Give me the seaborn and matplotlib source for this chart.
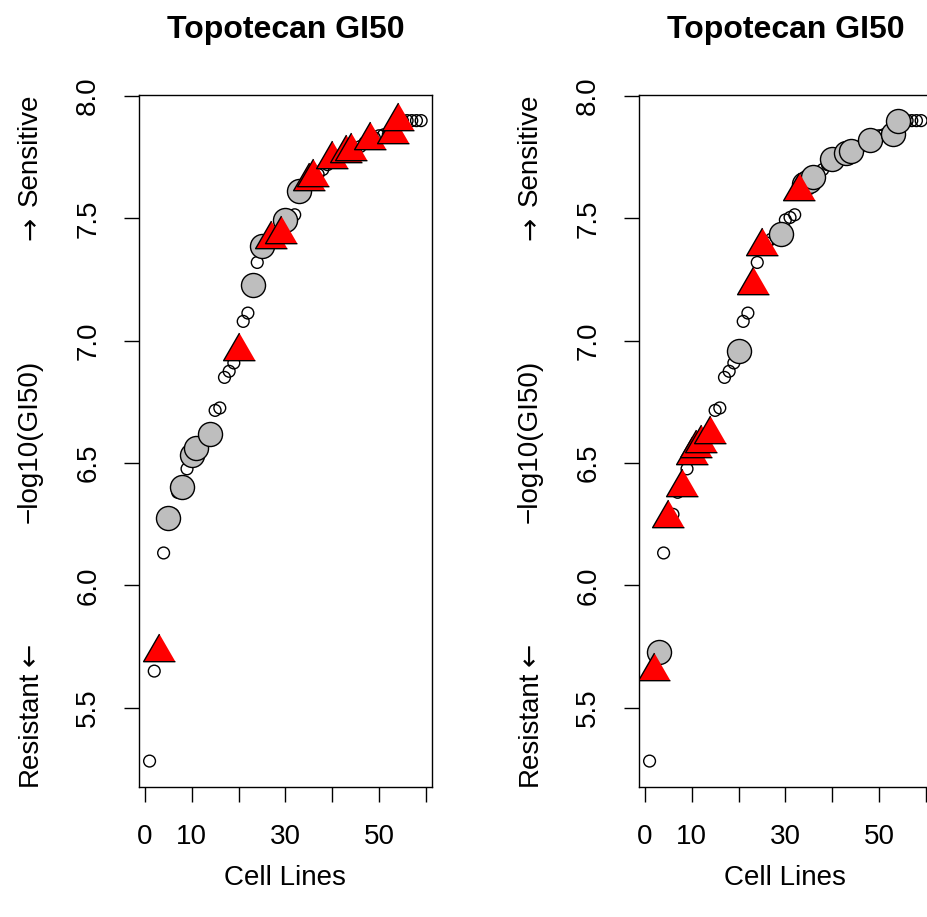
import numpy as np
import pandas as pd
import matplotlib
matplotlib.use("Agg")
import matplotlib.pyplot as plt
import seaborn as sns

# ---- data -------------------------------------------------------------
cell_index = list(range(1, 60))
gi50 = [5.281, 5.649, 5.729, 6.132, 6.273, 6.290, 6.380, 6.402, 6.476, 6.532,
        6.560, 6.580, 6.600, 6.619, 6.715, 6.725, 6.850, 6.875, 6.909, 6.959,
        7.079, 7.113, 7.228, 7.320, 7.387, 7.400, 7.415, 7.425, 7.437, 7.494,
        7.504, 7.515, 7.614, 7.640, 7.655, 7.669, 7.680, 7.700, 7.720, 7.744,
        7.750, 7.760, 7.767, 7.774, 7.780, 7.794, 7.810, 7.820, 7.830, 7.838,
        7.842, 7.843, 7.844, 7.900, 7.900, 7.900, 7.900, 7.900, 7.900]

left_grey = [5, 8, 10, 11, 14, 23, 25, 30, 33]
left_red = [3, 20, 27, 29, 35, 36, 40, 43, 44, 48, 53, 54]
right_grey = [3, 20, 29, 34, 35, 36, 40, 43, 44, 48, 53, 54]
right_red = [2, 5, 8, 10, 11, 12, 14, 23, 25, 33]

title = "Topotecan GI50"
xlabel = "Cell Lines"
ylabel = "\u2212log10(GI50)"
top_word, top_arrow = "Sensitive", "\u2192"
bottom_word, bottom_arrow = "Resistant", "\u2190"
xticks = [0, 10, 20, 30, 40, 50, 60]
xticklabels = ["0", "10", "", "30", "", "50", ""]
yticks = [5.5, 6.0, 6.5, 7.0, 7.5, 8.0]
yticklabels = ["5.5", "6.0", "6.5", "7.0", "7.5", "8.0"]

df = pd.DataFrame({"x": cell_index, "y": gi50})

# ---- style ------------------------------------------------------------
sns.set_style("white")
plt.rcParams["font.family"] = ["Liberation Sans", "DejaVu Sans"]
plt.rcParams["text.color"] = "black"
plt.rcParams["axes.labelcolor"] = "black"
plt.rcParams["xtick.color"] = "black"
plt.rcParams["ytick.color"] = "black"

W, H = 927, 917
fig = plt.figure(figsize=(W / 100, H / 100), dpi=100)

tri = [(0.0, 1.0), (-0.8660254, -0.5), (0.8660254, -0.5)]

def px(x0, y0, x1, y1):
    return [x0 / W, 1 - y1 / H, (x1 - x0) / W, (y1 - y0) / H]

panels = [
    (px(138.7, 95, 432, 786.7), left_grey, left_red, 0),
    (px(638.7, 95, 932, 786.7), right_grey, right_red, 500),
]

for rect, grey_idx, red_idx, off in panels:
    ax = fig.add_axes(rect)
    sns.scatterplot(data=df, x="x", y="y", ax=ax, marker="o", s=72,
                    facecolor="none", edgecolor="black", linewidth=1.0,
                    legend=False, zorder=3)
    g = df[df["x"].isin(grey_idx)]
    sns.scatterplot(data=g, x="x", y="y", ax=ax, marker="o", s=300,
                    color="#BEBEBE", edgecolor="black", linewidth=1.0,
                    legend=False, zorder=4)
    r = df[df["x"].isin(red_idx)]
    sns.scatterplot(data=r, x="x", y="y", ax=ax, marker=tri, s=700,
                    color="#FF0000", edgecolor="black", linewidth=1.0,
                    legend=False, zorder=5)

    n = len(cell_index)
    xr = n - 1
    ax.set_xlim(1 - 0.04 * xr, n + 0.04 * xr)
    ymin, ymax = min(gi50), max(gi50)
    yr = ymax - ymin
    ax.set_ylim(ymin - 0.04 * yr, ymax + 0.04 * yr)

    ax.set_xticks(xticks)
    ax.set_xticklabels(xticklabels, fontsize=20, color="black")
    ax.set_yticks(yticks)
    ax.set_yticklabels(yticklabels, fontsize=20, rotation=90, va="center",
                       color="black")
    ax.tick_params(axis="both", direction="out", length=11, width=1.0,
                   color="black", pad=16, labelcolor="black")
    ax.tick_params(axis="x", bottom=True)
    ax.tick_params(axis="y", left=True)
    ax.set_xlabel("")
    ax.set_ylabel("")
    for sp in ax.spines.values():
        sp.set_visible(True)
        sp.set_color("black")
        sp.set_linewidth(1.0)

    cx = (rect[0] + rect[2] / 2)
    fig.text(cx, 1 - 38 / H, title, ha="center", va="baseline",
             fontsize=23, fontweight="bold", color="black")
    fig.text(cx, 1 - 878 / H, xlabel, ha="center", va="center", fontsize=20,
             color="black")
    lx = (30 + off) / W
    fig.text(lx, 1 - 441 / H, ylabel, ha="center", va="center",
             rotation=90, fontsize=20, color="black")
    fig.text(lx, 1 - 93 / H, top_word, ha="center", va="top",
             rotation=90, fontsize=20, color="black")
    fig.text(lx, 1 - 240 / H, top_arrow, ha="center", va="bottom",
             rotation=90, fontsize=20, color="black", family="DejaVu Sans")
    fig.text(lx, 1 - 786 / H, bottom_word, ha="center", va="bottom",
             rotation=90, fontsize=20, color="black")
    fig.text(lx, 1 - 643 / H, bottom_arrow, ha="center", va="top",
             rotation=90, fontsize=20, color="black", family="DejaVu Sans")

fig.savefig("out.png", dpi=100, facecolor="white")
